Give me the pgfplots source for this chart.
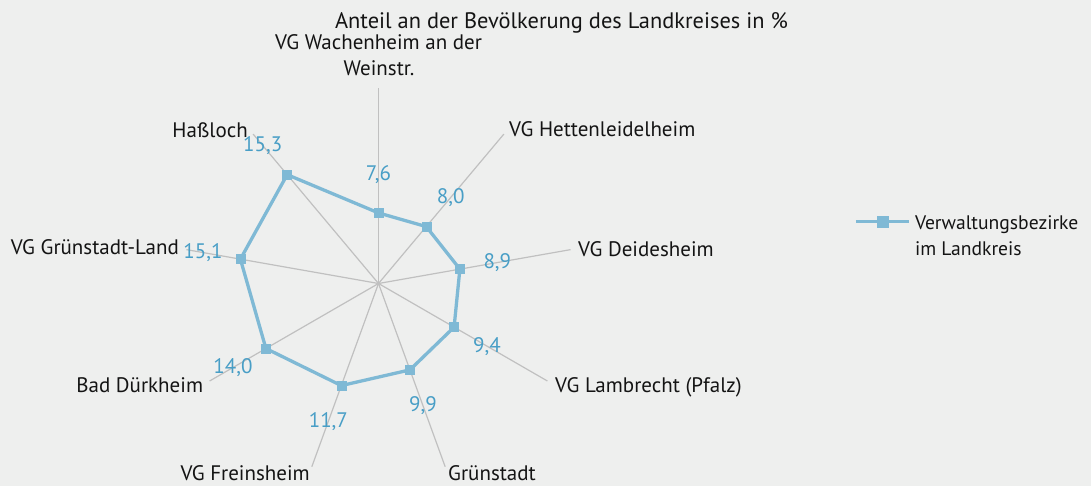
\documentclass[border=0pt]{standalone}
\usepackage{fontspec}
\setmainfont{PT Sans}
\usepackage{pgfplots}
\pgfplotsset{compat=1.18}
\usepackage{pgfplotstable}
\definecolor{bg}{RGB}{238,239,238}
\definecolor{spoke}{RGB}{192,192,192}
\definecolor{ser}{RGB}{127,185,213}
\definecolor{lbl}{RGB}{72,158,198}
\definecolor{txt}{RGB}{20,20,20}

\pgfplotstableread{
a r l
90 7.6 7,6
50 8.0 8,0
10 8.9 8,9
-30 9.4 9,4
-70 9.9 9,9
-110 11.7 11,7
-150 14.0 14,0
170 15.1 15,1
130 15.3 15,3
}\datatab

\pgfplotstableread{
a r
90 7.6
50 8.0
10 8.9
-30 9.4
-70 9.9
-110 11.7
-150 14.0
170 15.1
130 15.3
90 7.6
}\linetab

\begin{document}
\fontsize{21}{26}\selectfont
\begin{tikzpicture}
\path[use as bounding box, fill=bg] (-378.5pt,-202.5pt) rectangle (712.5pt,283.5pt);
\begin{axis}[
  anchor=origin, at={(0pt,0pt)},
  x=9.2857pt, y=9.2857pt,
  xmin=-21, xmax=21, ymin=-21, ymax=21,
  hide axis, clip=false,
  legend style={draw=none, fill=none, inner sep=0pt, outer sep=0pt,
    anchor=north west, at={(axis cs:51.24,7.80)},
    nodes={inner sep=0pt, text=txt}, column sep=4pt},
  legend cell align=left,
  legend image code/.code={\draw[mark repeat=2,mark phase=2,#1] plot coordinates {(0pt,0pt) (26.7pt,0pt) (53.4pt,0pt)};},
]
\pgfplotsinvokeforeach{90,50,10,-30,-70,-110,-150,170,130}{
  \addplot[spoke, line width=1.2pt, data cs=polar, forget plot] coordinates {(#1,0) (#1,21)};
}
\addplot[ser, line width=3.3pt, line join=round, data cs=polar, forget plot] table[x=a,y=r]{\linetab};
\addplot[ser, only marks, mark=square*, mark size=4.5pt, data cs=polar, forget plot,
  nodes near coords, point meta=explicit symbolic,
  visualization depends on={\thisrow{a}\as\ang},
  every node near coord/.append style={anchor=center, inner sep=0pt, text=lbl, shift={(\ang:38pt)}}]
  table[x=a,y=r,meta=l]{\datatab};
\addlegendimage{ser, line width=3.3pt, mark=square*, mark size=4.5pt}
\addlegendentry{\fontsize{19.6}{26}\selectfont\begin{tabular}[t]{@{}l@{}}Verwaltungsbezirke\\im Landkreis\end{tabular}}
\end{axis}
\begin{scope}[every node/.style={inner sep=0pt, text=txt}]
\node[anchor=base, font=\fontsize{22.4}{26}\selectfont] at (183pt,255.2pt) {Anteil an der Bevölkerung des Landkreises in \%};
\node[anchor=base] at (0pt,233.5pt) {VG Wachenheim an der};
\node[anchor=base] at (0.5pt,207.5pt) {Weinstr.};
\node[anchor=base west] at (130.5pt,146.8pt) {VG Hettenleidelheim};
\node[anchor=base west] at (199.5pt,26.8pt) {VG Deidesheim};
\node[anchor=base west] at (176.5pt,-109.2pt) {VG Lambrecht (Pfalz)};
\node[anchor=base west] at (69.5pt,-197.2pt) {Grünstadt};
\node[anchor=base east] at (-68.5pt,-197.2pt) {VG Freinsheim};
\node[anchor=base east] at (-175.2pt,-109.2pt) {Bad Dürkheim};
\node[anchor=base east] at (-199.5pt,28.5pt) {VG Grünstadt-Land};
\node[anchor=base east] at (-130.5pt,146.2pt) {Haßloch};
\end{scope}
\end{tikzpicture}
\end{document}
